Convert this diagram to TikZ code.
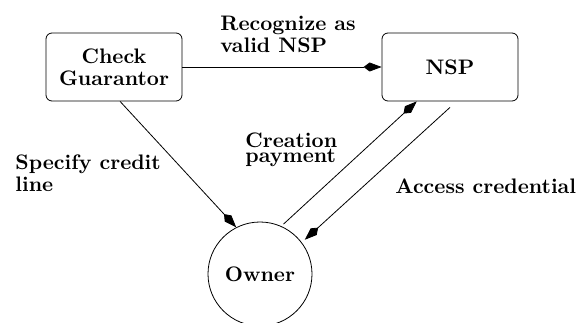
\documentclass[tikz,border=0pt]{standalone}
\usetikzlibrary{arrows.meta}

\begin{document}
\begin{tikzpicture}[x=0.5pt,y=0.5pt,
  font=\fontsize{10.5}{11}\selectfont\bfseries,
  party/.style={draw,rounded corners=3pt,minimum width=68pt,minimum height=34pt,align=center,inner sep=1pt},
  user/.style={draw,circle,minimum size=52pt,inner sep=0pt},
  flow/.style={-{Kite[length=9pt,width=4.5pt,inset=3pt]},line width=0.4pt},
  note/.style={anchor=base west,align=left,inner sep=0pt}]
\useasboundingbox (0,0) rectangle (579,322);
\node[party] (guar) at (114,255) {Check\\Guarantor};
\node[party] (nsp) at (450,255) {NSP};
\node[user] (owner) at (260,48) {Owner};
\draw[flow] (guar) -- (nsp);
\draw[flow] (guar.-80) -- (owner.117);
\draw[flow,shorten <=1.5pt] (owner.66) -- (nsp.-134);
\draw[flow,shorten >=2pt] ([yshift=-3pt]nsp.south) -- (owner.37);
% labels, placed by the baseline of their last line
\node[note] (recog) at (220,269) {Recognize as\\valid NSP};
\node[note] (credit) at (15,131) {Specify credit\\line};
\node[note] (pay) at (245,160) {Creation\\[-3.5pt]payment};
\node[note] (access) at (395,129) {Access credential};
\end{tikzpicture}
\end{document}
